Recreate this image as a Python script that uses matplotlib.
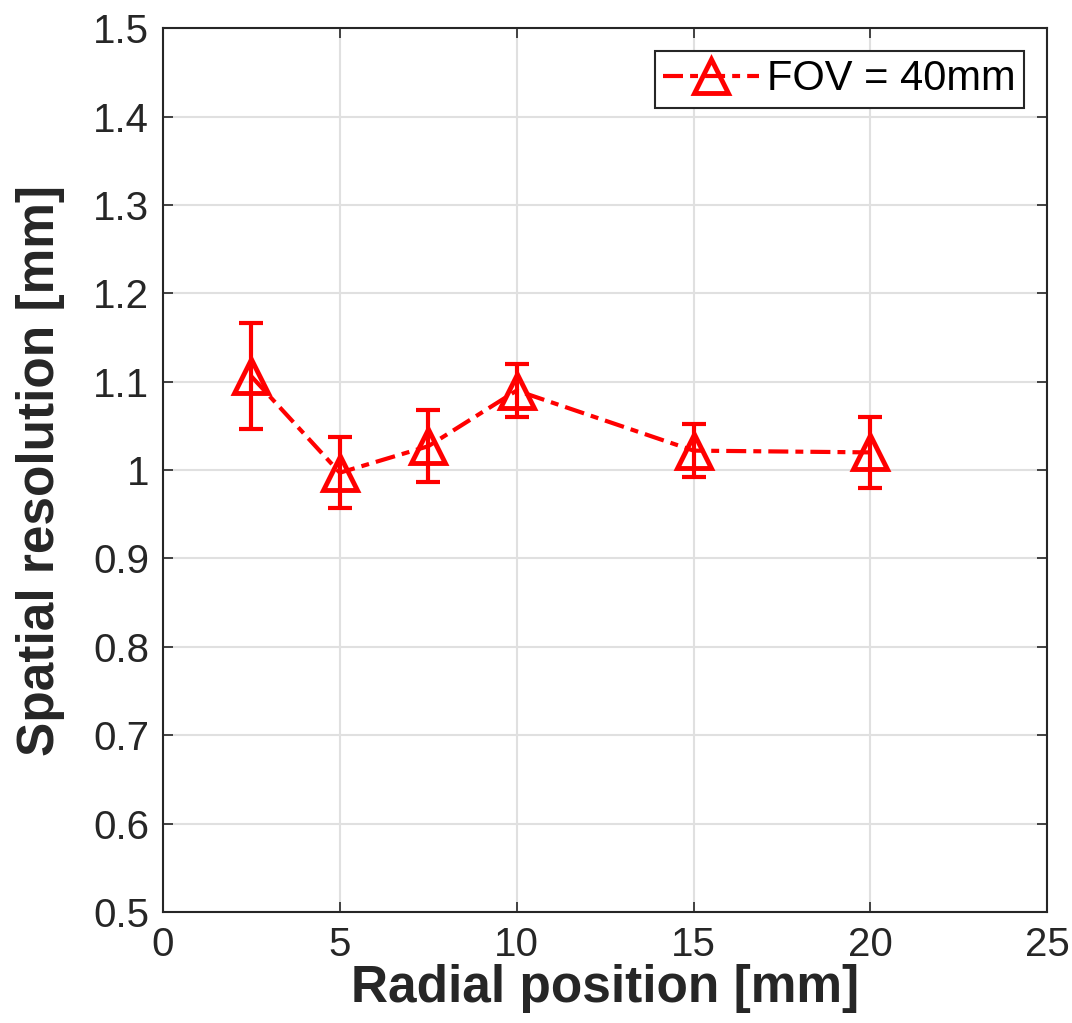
import matplotlib
matplotlib.use("Agg")
import matplotlib.pyplot as plt

radial_position = [2.5, 5, 7.5, 10, 15, 20]
resolution = [1.106, 0.997, 1.027, 1.090, 1.022, 1.020]
resolution_err = [0.060, 0.040, 0.041, 0.030, 0.030, 0.040]
series_label = "FOV = 40mm"
x_ticks = [0, 5, 10, 15, 20, 25]
y_ticks = [0.5, 0.6, 0.7, 0.8, 0.9, 1.0, 1.1, 1.2, 1.3, 1.4, 1.5]
y_tick_labels = ["0.5", "0.6", "0.7", "0.8", "0.9", "1", "1.1", "1.2", "1.3", "1.4", "1.5"]

plt.rcParams['font.family'] = ['Liberation Sans', 'DejaVu Sans']
text_color = '#262626'
red = '#ff0000'

fig = plt.figure(figsize=(10.72, 10.23), dpi=100)
ax = fig.add_axes([0.152, 0.1085, 0.825, 0.864])

ax.errorbar(radial_position, resolution, yerr=resolution_err, fmt='none',
            ecolor=red, elinewidth=3, capsize=8.5, capthick=3, zorder=3)
ax.plot(radial_position, resolution, color=red,
        linestyle=(0, (4.8, 1.7, 1.9, 1.7)), linewidth=3,
        marker='^', markersize=25, markerfacecolor='none',
        markeredgewidth=3.5, markeredgecolor=red,
        label=series_label, zorder=4)

ax.set_xlim(0, 25)
ax.set_ylim(0.5, 1.5)
ax.set_xticks(x_ticks)
ax.set_yticks(y_ticks)
ax.set_yticklabels(y_tick_labels)
ax.grid(True, color='#e0e0e0', linewidth=1.5)
ax.set_axisbelow(True)
ax.tick_params(direction='in', length=7, width=1.2, labelsize=29,
               colors=text_color, top=True, right=True)
ax.tick_params(axis='x', pad=10)
ax.tick_params(axis='y', pad=10)
for sp in ax.spines.values():
    sp.set_color(text_color)
    sp.set_linewidth(1.5)

ax.set_xlabel('Radial position [mm]', fontsize=37, fontweight='bold',
              color=text_color, labelpad=0)
ax.set_ylabel('Spatial resolution [mm]', fontsize=37, fontweight='bold',
              color=text_color, labelpad=20)

leg = ax.legend(loc='upper right', fontsize=30, frameon=True, fancybox=False,
                handlelength=2.3, handletextpad=0.2, borderpad=0.2,
                borderaxespad=0.55, markerscale=1.0)
leg.get_frame().set_edgecolor(text_color)
leg.get_frame().set_linewidth(1.5)
leg.get_frame().set_alpha(1)

fig.savefig('out.png', dpi=100)
